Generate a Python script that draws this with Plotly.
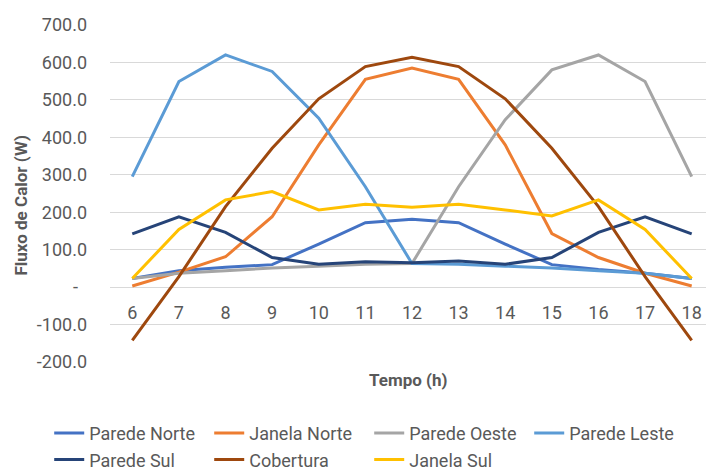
import plotly.graph_objects as go

hours = [6, 7, 8, 9, 10, 11, 12, 13, 14, 15, 16, 17, 18]
parede_norte = [23, 44, 53, 60, 115, 172, 181, 172, 115, 60, 47, 37, 23]
janela_norte = [3, 40, 81, 188, 380, 555, 585, 555, 380, 143, 79, 37, 3]
parede_oeste = [23, 37, 44, 51, 56, 61, 63, 268, 447, 580, 620, 549, 295]
parede_leste = [295, 549, 620, 576, 451, 268, 63, 61, 56, 51, 44, 37, 23]
parede_sul = [142, 188, 146, 79, 61, 68, 65, 70, 61, 79, 146, 188, 142]
cobertura = [-142, 28, 215, 371, 503, 589, 614, 589, 503, 371, 215, 28, -142]
janela_sul = [23, 154, 233, 255, 206, 221, 213, 221, 206, 190, 233, 154, 23]

series_names = ["Parede Norte", "Janela Norte", "Parede Oeste", "Parede Leste",
                "Parede Sul", "Cobertura", "Janela Sul"]
series_values = [parede_norte, janela_norte, parede_oeste, parede_leste,
                 parede_sul, cobertura, janela_sul]
colors = ["#4472C4", "#ED7D31", "#A5A5A5", "#5B9BD5", "#264478", "#9E480E", "#FFC000"]

y_tickvals = [-200, -100, 0, 100, 200, 300, 400, 500, 600, 700]
y_ticktext = ["-200.0", "-100.0", "-\u00a0\u00a0", "100.0", "200.0", "300.0",
              "400.0", "500.0", "600.0", "700.0"]

FONT = "Roboto"
GRAY = "#595959"

fig = go.Figure()
for name, vals, col in zip(series_names, series_values, colors):
    fig.add_trace(go.Scatter(x=hours, y=vals, name=name, mode="lines",
                             line=dict(color=col, width=3)))

ymin, ymax = -200, 700
fig.update_layout(
    width=706, height=473,
    margin=dict(l=110, r=0, t=25, b=111, autoexpand=False),
    paper_bgcolor="white", plot_bgcolor="white",
    font=dict(family=FONT, size=18, color=GRAY),
    xaxis=dict(
        range=[5.522, 18.307], tickvals=hours, ticktext=[str(h) for h in hours],
        showgrid=False, zeroline=False, showline=False, ticks="",
        anchor="free", position=(0 - ymin) / (ymax - ymin),
        ticklabelstandoff=13, automargin=False,
        tickfont=dict(family=FONT, size=18, color=GRAY),
    ),
    yaxis=dict(
        range=[ymin, ymax], tickvals=y_tickvals, ticktext=y_ticktext,
        showgrid=True, gridcolor="#D9D9D9", gridwidth=1,
        zeroline=False, showline=False, ticks="",
        ticklabelstandoff=22, automargin=False,
        tickfont=dict(family=FONT, size=18, color=GRAY),
    ),
    legend=dict(
        orientation="h", x=-0.102, xanchor="left", y=-0.157, yanchor="top",
        font=dict(family=FONT, size=18, color=GRAY),
        entrywidth=115, entrywidthmode="pixels",
        bgcolor="rgba(0,0,0,0)", traceorder="normal",
    ),
    showlegend=True,
)

fig.add_annotation(text="<b>Fluxo de Calor (W)</b>", xref="paper", yref="paper",
                   x=0, y=0.5, xshift=-90, yshift=-12, xanchor="center", yanchor="middle",
                   textangle=-90, showarrow=False,
                   font=dict(family=FONT, size=17, color=GRAY))
fig.add_annotation(text="<b>Tempo (h)</b>", xref="paper", yref="paper",
                   x=0.5, y=0, yshift=-18, xanchor="center", yanchor="middle",
                   showarrow=False,
                   font=dict(family=FONT, size=17, color=GRAY))

fig.write_html("out.html", config={"displayModeBar": False},
               post_script="document.body.style.margin='0';")
